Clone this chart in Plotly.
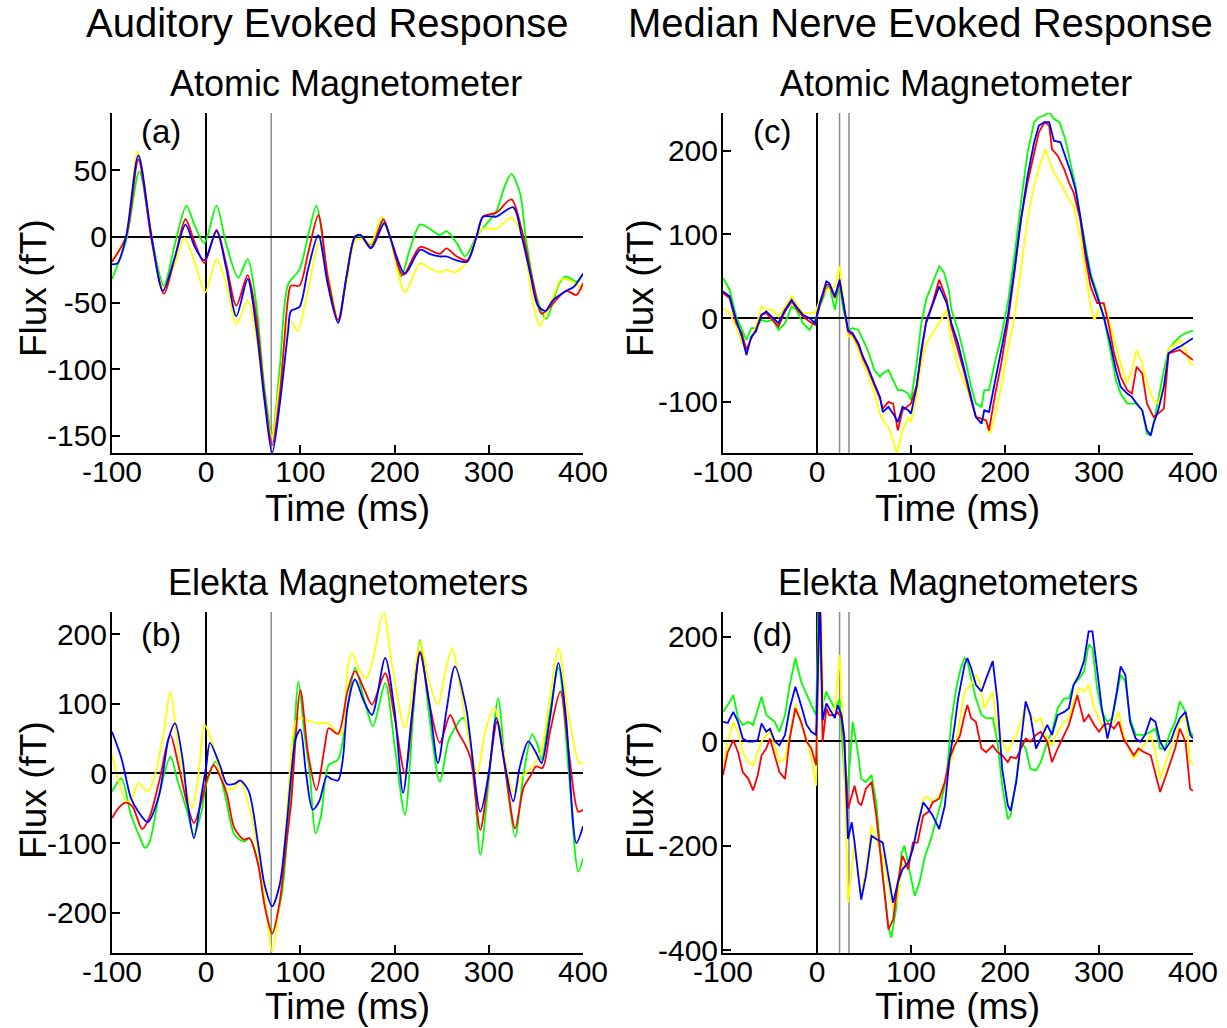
import plotly.graph_objects as go

# ---------------- data (time ms, flux fT) ----------------
TIME_TICKS = [-100, 0, 100, 200, 300, 400]
TIME_LABELS = ["-100", "0", "100", "200", "300", "400"]

# Panel (a): Auditory, atomic magnetometer
A_BLUE = [(-100,-21),(-94,-20),(-85,0),(-72,61),(-58,0),(-46,-41),(-33,-15),(-22,9),(-12,-8),(-2,-18),
          (11,4),(21,-23),(32,-60),(44,-32),(53,-68),(62,-124),(70,-163),(78,-127),(87,-71),(90,-56),
          (99,-53),(108,-25),(119,1),(129,-36),(140,-65),(149,-30),(158,0),(164,1),(175,-9),(189,10),
          (195,0),(211,-28),(227,-10),(237,-13),(248,-15),(255,-15),(266,-18),(277,-19),(287,0),(294,15),
          (308,15),(326,22),(335,0),(344,-28),(352,-52),(360,-56),(368,-48),(382,-41),(390,-38),(400,-28)]
A_RED = [(-100,-19),(-85,0),(-72,58),(-58,-3),(-45,-43),(-33,-15),(-22,13),(-12,-5),(-2,-20),(11,5),
         (21,-20),(32,-52),(44,-29),(53,-60),(62,-120),(70,-157),(78,-120),(87,-46),(90,-37),(99,-37),
         (108,-13),(119,16),(129,-30),(140,-63),(149,-30),(158,0),(164,1),(175,-8),(188,13),(195,0),
         (209,-29),(227,-8),(248,-13),(255,-9),(266,-15),(277,-18),(287,0),(294,15),(308,18),(324,28),
         (335,5),(347,-35),(356,-58),(365,-53),(382,-41),(393,-44),(400,-35)]
A_GREEN = [(-100,-32),(-85,-3),(-71,49),(-58,0),(-45,-37),(-33,-5),(-21,23),(-12,8),(-2,-5),(11,23),
           (21,-5),(34,-31),(44,-17),(53,-50),(62,-115),(70,-149),(78,-100),(87,-36),(99,-25),(108,0),
           (117,23),(129,-30),(140,-63),(149,-30),(158,0),(164,0),(175,-6),(188,11),(195,0),(207,-30),
           (216,-10),(227,9),(237,6),(248,1),(255,4),(266,-5),(275,-15),(287,0),(298,10),(308,19),
           (317,38),(324,47),(333,33),(340,-5),(351,-46),(361,-62),(375,-35),(382,-30),(393,-34),(400,-28)]
A_YELLOW = [(-100,-18),(-85,0),(-73,64),(-58,0),(-46,-39),(-33,-20),(-23,-1),(-12,-20),(-1,-42),(11,-17),
            (21,-35),(32,-66),(44,-48),(53,-75),(62,-125),(70,-151),(78,-110),(89,-63),(97,-71),(108,-40),
            (120,-5),(131,-35),(140,-63),(149,-35),(158,-3),(164,-2),(175,-5),(186,15),(195,0),(211,-42),
            (227,-20),(237,-24),(248,-27),(255,-25),(264,-27),(277,-19),(287,0),(294,6),(308,6),(324,14),
            (335,0),(347,-50),(354,-67),(368,-46),(377,-32),(386,-33),(397,-38),(400,-40)]

# Panel (b): Auditory, Elekta magnetometers
B_BLUE = [(-100,60),(-90,22),(-80,-35),(-72,-55),(-62,-70),(-50,-31),(-40,50),(-33,72),(-25,20),(-20,-40),
          (-13,-93),(-5,-30),(0,10),(4,44),(15,10),(22,-15),(30,-15),(36,-10),(45,-25),(55,-100),
          (62,-160),(70,-191),(78,-160),(85,-80),(90,-5),(95,50),(100,63),(106,0),(113,-52),(120,-40),
          (128,-4),(133,-8),(140,-10),(145,20),(150,95),(158,135),(167,105),(176,84),(190,166),(200,90),
          (209,-28),(218,80),(227,173),(237,100),(246,15),(255,90),(264,154),(276,94),(291,-55),(300,0),
          (308,80),(316,20),(326,-40),(333,10),(342,46),(350,30),(356,15),(365,80),(374,159),(382,80),
          (393,-100),(400,-76)]
B_RED = [(-100,-64),(-92,-48),(-85,-42),(-78,-48),(-68,-80),(-60,-62),(-50,-12),(-38,55),(-30,15),(-20,-45),
         (-13,-71),(-5,-40),(0,-12),(8,12),(15,-5),(22,-30),(30,-79),(40,-95),(46,-93),(55,-130),
         (62,-190),(70,-230),(78,-185),(85,-100),(90,-45),(100,120),(108,30),(117,-24),(126,40),(130,65),
         (140,57),(150,118),(158,147),(168,120),(176,99),(190,144),(200,80),(211,0),(220,100),(227,175),
         (237,100),(248,44),(259,84),(267,60),(275,41),(281,20),(291,-81),(300,0),(309,75),(318,0),
         (328,-79),(337,-20),(345,-2),(350,10),(357,8),(365,60),(376,118),(385,30),(395,-55),(400,-52)]
B_GREEN = [(-100,-26),(-90,-7),(-80,-59),(-70,-93),(-65,-107),(-60,-98),(-50,-31),(-38,24),(-30,-12),(-20,-55),
           (-13,-88),(-5,-55),(0,-16),(10,17),(20,-31),(30,-88),(40,-98),(46,-93),(55,-127),(62,-184),
           (70,-230),(80,-175),(90,-21),(98,132),(104,60),(110,0),(116,-86),(122,-60),(130,12),(140,20),
           (150,94),(158,152),(167,110),(177,68),(190,130),(200,40),(211,-59),(220,90),(227,192),(237,80),
           (248,-12),(258,50),(273,80),(282,30),(291,-117),(300,-10),(310,108),(318,0),(328,-91),(337,0),
           (346,56),(352,40),(356,20),(365,90),(374,152),(385,0),(395,-141),(400,-122)]
B_YELLOW = [(-100,27),(-92,-15),(-85,-40),(-80,-38),(-72,-14),(-62,-26),(-55,-5),(-45,60),(-38,118),(-30,40),
            (-20,-30),(-15,-50),(-8,0),(-2,70),(5,50),(15,0),(22,-23),(30,-21),(36,-10),(44,-40),
            (52,-88),(62,-175),(70,-256),(78,-184),(86,-50),(95,75),(100,80),(110,75),(120,72),(130,72),
            (140,56),(145,60),(150,150),(155,173),(162,150),(170,137),(178,170),(188,233),(198,150),(211,65),
            (220,130),(227,190),(237,130),(246,99),(253,140),(261,180),(270,120),(280,40),(288,0),(296,60),
            (306,94),(316,30),(326,-26),(335,-5),(345,8),(355,30),(365,110),(374,180),(385,80),(396,15),(400,15)]

# Panel (c): Median nerve, atomic magnetometer
C_BLUE = [(-100,32),(-93,26),(-86,-2),(-80,-22),(-75,-44),(-70,-22),(-65,-16),(-59,4),(-54,8),(-47,0),
          (-41,-6),(-34,10),(-27,22),(-22,14),(-15,4),(-8,0),(-2,-6),(3,18),(10,44),(13,42),(19,26),
          (24,46),(28,18),(33,-14),(38,-18),(44,-30),(49,-46),(54,-58),(61,-78),(67,-94),(70,-112),
          (76,-106),(81,-114),(86,-124),(91,-106),(97,-110),(100,-114),(106,-82),(111,-38),(116,-6),
          (123,16),(130,38),(138,18),(143,-6),(150,-30),(157,-62),(164,-94),(169,-118),(175,-126),
          (178,-110),(183,-112),(189,-78),(196,-42),(203,2),(210,58),(217,118),(224,170),(231,210),
          (236,230),(242,234),(247,234),(252,212),(259,210),(265,190),(270,174),(275,154),(280,122),
          (286,78),(291,50),(298,26),(305,2),(312,-30),(318,-62),(323,-82),(330,-90),(335,-94),(340,-102),
          (346,-110),(351,-134),(355,-140),(358,-126),(363,-110),(369,-82),(374,-42),(379,-38),(386,-34),
          (392,-30),(397,-26),(400,-24)]
C_RED = [(-100,30),(-93,24),(-86,-6),(-80,-18),(-75,-38),(-70,-24),(-65,-14),(-59,4),(-54,6),(-47,-2),
         (-41,-10),(-34,8),(-27,20),(-22,12),(-15,2),(-8,-4),(-2,-8),(3,16),(10,40),(13,40),(19,24),
         (24,44),(28,16),(33,-16),(38,-20),(44,-32),(49,-48),(54,-60),(61,-80),(67,-96),(70,-108),
         (76,-100),(81,-102),(86,-134),(91,-110),(97,-104),(100,-102),(106,-80),(111,-40),(116,-4),
         (123,18),(130,46),(138,22),(143,-10),(150,-38),(157,-66),(164,-98),(169,-118),(175,-120),
         (180,-122),(183,-134),(189,-94),(196,-54),(203,-6),(210,54),(217,118),(224,162),(231,198),
         (236,222),(242,234),(247,230),(250,202),(256,194),(263,178),(268,162),(273,150),(280,118),
         (286,70),(291,38),(298,18),(305,18),(310,-6),(316,-42),(323,-70),(330,-86),(335,-90),(340,-58),
         (346,-66),(351,-102),(358,-118),(363,-114),(369,-108),(374,-42),(386,-38),(397,-48),(400,-50)]
C_GREEN = [(-100,48),(-93,34),(-86,2),(-80,-14),(-75,-26),(-70,-12),(-65,-12),(-59,-2),(-54,-4),(-47,-2),
           (-41,-14),(-34,-6),(-27,14),(-22,10),(-15,-6),(-8,-14),(-2,-2),(3,14),(10,34),(13,40),(19,10),
           (24,42),(28,10),(33,-14),(38,-12),(44,-14),(49,-26),(54,-38),(61,-62),(67,-70),(70,-66),
           (76,-62),(81,-74),(86,-86),(91,-86),(97,-90),(100,-98),(106,-54),(111,-6),(116,22),(123,42),
           (130,62),(135,55),(140,35),(143,10),(150,-14),(157,-46),(164,-82),(169,-102),(175,-106),
           (178,-86),(183,-86),(189,-54),(196,-22),(203,18),(210,74),(217,138),(224,198),(231,234),
           (236,240),(242,242),(247,246),(252,238),(258,234),(264,214),(270,182),(275,158),(280,122),
           (286,82),(291,54),(298,30),(305,2),(312,-38),(318,-74),(323,-90),(330,-102),(335,-102),
           (340,-102),(346,-110),(351,-138),(355,-140),(358,-126),(363,-98),(369,-62),(374,-38),(379,-30),
           (386,-22),(392,-18),(397,-16),(400,-15)]
C_YELLOW = [(-100,12),(-93,6),(-86,-10),(-80,-30),(-75,-36),(-70,-26),(-65,-10),(-59,14),(-54,10),(-47,10),
            (-41,2),(-34,14),(-27,26),(-22,18),(-15,6),(-8,6),(-2,6),(3,22),(10,34),(13,34),(19,38),
            (24,62),(28,26),(33,-22),(38,-22),(44,-38),(49,-54),(54,-66),(61,-90),(67,-114),(70,-122),
            (76,-130),(81,-146),(85,-162),(91,-134),(97,-118),(100,-124),(106,-94),(111,-54),(116,-30),
            (123,-18),(130,-6),(138,10),(143,-26),(150,-58),(157,-78),(164,-98),(169,-118),(175,-122),
            (180,-124),(184,-138),(189,-118),(196,-82),(203,-38),(210,2),(217,58),(224,118),(231,158),
            (238,186),(243,202),(249,182),(254,170),(261,158),(266,146),(273,134),(280,98),(286,50),
            (291,14),(295,-2),(300,10),(305,18),(310,0),(316,-26),(323,-54),(330,-78),(335,-62),(340,-38),
            (346,-54),(351,-78),(358,-98),(363,-102),(369,-80),(374,-38),(379,-32),(386,-26),(392,-38),
            (397,-54),(400,-56)]

# Panel (d): Median nerve, Elekta magnetometers
D_BLUE = [(-100,37),(-95,35),(-89,56),(-84,37),(-79,5),(-73,-1),(-68,-1),(-63,2),(-59,34),(-54,18),
          (-50,24),(-45,0),(-40,-8),(-34,12),(-29,63),(-23,104),(-17,69),(-11,31),(-6,18),(-1,12),
          (3,280),(6,40),(10,72),(13,63),(19,44),(22,69),(26,50),(29,10),(33,-187),(37,-155),(40,-194),
          (44,-258),(47,-303),(52,-258),(58,-181),(63,-187),(70,-194),(76,-258),(81,-309),(86,-270),
          (91,-245),(97,-232),(102,-206),(107,-162),(113,-117),(118,-129),(123,-142),(130,-168),
          (136,-123),(141,-33),(146,24),(150,80),(157,146),(160,159),(164,140),(169,108),(175,95),
          (180,120),(187,153),(192,76),(197,-53),(203,-123),(206,-133),(212,-78),(217,-1),(222,76),
          (227,50),(233,-14),(238,5),(245,31),(250,12),(256,50),(263,56),(268,63),(273,108),(279,127),
          (284,153),(289,210),(293,210),(298,140),(303,63),(309,5),(314,44),(319,95),(323,143),(328,127),
          (333,37),(339,5),(344,-1),(349,12),(355,44),(360,37),(365,-1),(370,-17),(376,-1),(381,24),
          (386,44),(392,56),(397,12),(400,5)]
D_RED = [(-100,-65),(-95,-21),(-89,2),(-84,-21),(-79,-59),(-73,-72),(-68,-94),(-63,-65),(-59,-27),(-54,-14),
         (-50,5),(-45,-27),(-40,-59),(-34,-72),(-29,5),(-23,63),(-17,37),(-11,-1),(-6,-14),(-1,-46),
         (3,300),(6,-1),(10,63),(13,50),(19,50),(22,55),(26,45),(29,0),(33,-129),(37,-104),(40,-85),
         (44,-117),(47,-123),(52,-91),(58,-78),(63,-142),(70,-258),(76,-360),(81,-341),(86,-270),
         (91,-219),(97,-245),(102,-194),(107,-194),(113,-142),(118,-136),(123,-117),(130,-110),
         (136,-78),(141,-33),(146,-10),(152,10),(157,50),(160,69),(164,44),(169,37),(175,-14),
         (180,-21),(187,-8),(192,-21),(197,-27),(203,-40),(206,-30),(212,-33),(217,-14),(222,5),
         (227,-1),(233,12),(238,18),(245,-1),(250,-40),(256,-14),(263,12),(268,31),(273,63),(277,88),
         (284,37),(289,50),(295,31),(300,18),(305,31),(310,34),(316,24),(321,37),(326,5),(332,-14),
         (337,-27),(342,-14),(348,-21),(355,-27),(360,-65),(365,-97),(370,-72),(376,-40),(381,-14),
         (386,24),(392,-1),(397,-91),(400,-95)]
D_GREEN = [(-100,56),(-95,69),(-89,88),(-84,44),(-79,31),(-73,37),(-68,31),(-63,63),(-59,85),(-54,50),
           (-50,44),(-45,37),(-40,18),(-34,50),(-29,108),(-23,159),(-17,114),(-11,88),(-6,69),(-1,50),
           (2,300),(6,70),(10,95),(13,82),(19,63),(24,80),(27,0),(31,-120),(35,-40),(38,37),(44,-27),
           (47,-72),(52,-78),(58,-65),(63,-117),(70,-258),(76,-354),(79,-376),(84,-322),(90,-213),
           (93,-200),(99,-251),(104,-296),(109,-270),(115,-219),(120,-194),(125,-162),(132,-117),
           (138,-65),(143,40),(148,100),(153,140),(157,159),(160,153),(164,120),(169,82),(175,50),
           (180,44),(187,44),(192,-1),(197,-85),(203,-149),(206,-142),(212,-72),(217,-1),(222,-14),
           (227,-53),(233,-56),(238,-40),(245,-1),(250,18),(256,63),(263,82),(268,82),(273,108),(279,120),
           (284,133),(289,185),(293,178),(298,101),(303,56),(309,37),(314,44),(319,88),(323,127),(328,114),
           (333,44),(339,12),(344,12),(349,12),(355,18),(360,24),(365,-14),(370,-14),(376,18),(381,37),
           (386,76),(392,56),(397,18),(400,10)]
D_YELLOW = [(-100,-53),(-95,-1),(-89,37),(-84,18),(-79,-21),(-73,-40),(-68,-46),(-63,-21),(-59,-1),(-54,12),
            (-50,18),(-45,-8),(-40,-40),(-34,-33),(-29,12),(-23,69),(-17,37),(-11,5),(-6,-33),(-1,-85),
            (4,300),(7,50),(10,56),(19,60),(24,165),(28,20),(33,-309),(37,-245),(40,-194),(44,-258),
            (47,-296),(52,-245),(58,-162),(63,-187),(70,-219),(76,-277),(81,-322),(86,-296),(91,-238),
            (97,-232),(102,-206),(107,-155),(113,-110),(118,-107),(123,-117),(130,-104),(136,-78),
            (141,-46),(146,-14),(150,20),(157,95),(160,101),(164,108),(169,127),(173,114),(178,63),
            (187,95),(192,24),(197,-1),(203,-21),(206,-8),(212,12),(217,37),(222,69),(227,50),(233,37),
            (238,44),(245,5),(250,-8),(256,18),(263,37),(268,44),(273,76),(279,101),(284,95),(289,108),
            (295,63),(300,44),(305,24),(310,24),(316,37),(321,56),(326,12),(332,-14),(337,-33),(342,-21),
            (348,-8),(355,12),(360,-21),(365,-72),(370,-46),(376,-14),(381,12),(386,37),(392,50),
            (397,-40),(400,-45)]

A_YTICKS = [-150, -100, -50, 0, 50]
B_YTICKS = [-200, -100, 0, 100, 200]
C_YTICKS = [-100, 0, 100, 200]
D_YTICKS = [-400, -200, 0, 200]

A_MARKERS = [69]
C_MARKERS = [24, 34]

COLUMN_TITLES = ["Auditory Evoked Response", "Median Nerve Evoked Response"]
PANEL_TITLES = ["Atomic Magnetometer", "Elekta Magnetometers"]

# ---------------- figure ----------------
W, H = 1227, 1028
FONT = "Liberation Sans, Arial, Helvetica, sans-serif"
COLORS = {"green": "#00ff00", "yellow": "#ffff00", "red": "#ff0000", "blue": "#0000ff"}

def px(x):
    return x / W

def py(y):
    return 1 - y / H

def labels(vals):
    return [str(v) for v in vals]   # plain hyphen-minus, as in the original

panels = [
    ("", {"green": A_GREEN, "yellow": A_YELLOW, "red": A_RED, "blue": A_BLUE},
     [-163, 93], A_YTICKS, [px(112), px(583)], [py(453), py(113)], A_MARKERS, True),
    ("2", {"green": B_GREEN, "yellow": B_YELLOW, "red": B_RED, "blue": B_BLUE},
     [-258, 232], B_YTICKS, [px(112), px(583)], [py(953), py(612)], A_MARKERS, True),
    ("3", {"green": C_GREEN, "yellow": C_YELLOW, "red": C_RED, "blue": C_BLUE},
     [-161, 245], C_YTICKS, [px(723), px(1193)], [py(453), py(113)], C_MARKERS, False),
    ("4", {"green": D_GREEN, "yellow": D_YELLOW, "red": D_RED, "blue": D_BLUE},
     [-405, 247], D_YTICKS, [px(723), px(1193)], [py(953), py(612)], C_MARKERS, False),
]

fig = go.Figure()
shapes = []
layout = {}
for suffix, series, yr, yt, xd, yd, markers, spline in panels:
    xa, ya = "x" + suffix, "y" + suffix
    for name, pts in series.items():
        fig.add_trace(go.Scatter(
            x=[p[0] for p in pts], y=[p[1] for p in pts], mode="lines",
            line=dict(color=COLORS[name], width=1.8, shape="spline" if spline else "linear",
                      smoothing=0.8),
            xaxis=xa, yaxis=ya, showlegend=False, hoverinfo="skip"))
    common = dict(showline=True, linecolor="black", linewidth=2, ticks="inside", ticklen=8,
                  tickwidth=2, tickcolor="black", showgrid=False, zeroline=True,
                  zerolinecolor="black", zerolinewidth=2, automargin=False,
                  tickfont=dict(family=FONT, size=30, color="black"))
    layout["xaxis" + suffix] = dict(common, domain=xd, range=[-100, 400], tickvals=TIME_TICKS,
                                    ticktext=TIME_LABELS, anchor=ya, ticklabelstandoff=-9)
    layout["yaxis" + suffix] = dict(common, domain=yd, range=yr, tickvals=yt,
                                    ticktext=labels(yt), anchor=xa, ticklabelstandoff=-3)
    for m in markers:
        shapes.append(dict(type="line", xref=xa, yref=ya + " domain", x0=m, x1=m, y0=0, y1=1,
                           line=dict(color="#8c8c8c", width=1.5), layer="below"))

ann = []
def text(s, x, y, size, angle=0):
    ann.append(dict(text=s, x=px(x), y=py(y), xref="paper", yref="paper", showarrow=False,
                    xanchor="center", yanchor="middle", textangle=angle,
                    font=dict(family=FONT, size=size, color="black")))

text(COLUMN_TITLES[0], 327, 23, 40)
text(COLUMN_TITLES[1], 920, 23, 40)
text(PANEL_TITLES[0], 346, 83, 36)
text(PANEL_TITLES[0], 956, 83, 36)
text(PANEL_TITLES[1], 348, 582, 36)
text(PANEL_TITLES[1], 958, 582, 36)
for cx in (347, 957):
    text("Time (ms)", cx, 508, 37)
    text("Time (ms)", cx, 1006, 37)
for cx in (33, 640):
    text("Flux (fT)", cx, 288, 37, -90)
    text("Flux (fT)", cx, 790, 37, -90)
text("(a)", 161, 131, 33)
text("(c)", 772, 131, 33)
text("(b)", 161, 634, 33)
text("(d)", 772, 634, 33)

fig.update_layout(width=W, height=H, margin=dict(l=0, r=0, t=0, b=0, autoexpand=False),
                  paper_bgcolor="white", plot_bgcolor="white", shapes=shapes,
                  annotations=ann, font=dict(family=FONT), **layout)
fig.write_html("out.html", config={"displayModeBar": False},
               post_script="document.body.style.margin='0px';")
